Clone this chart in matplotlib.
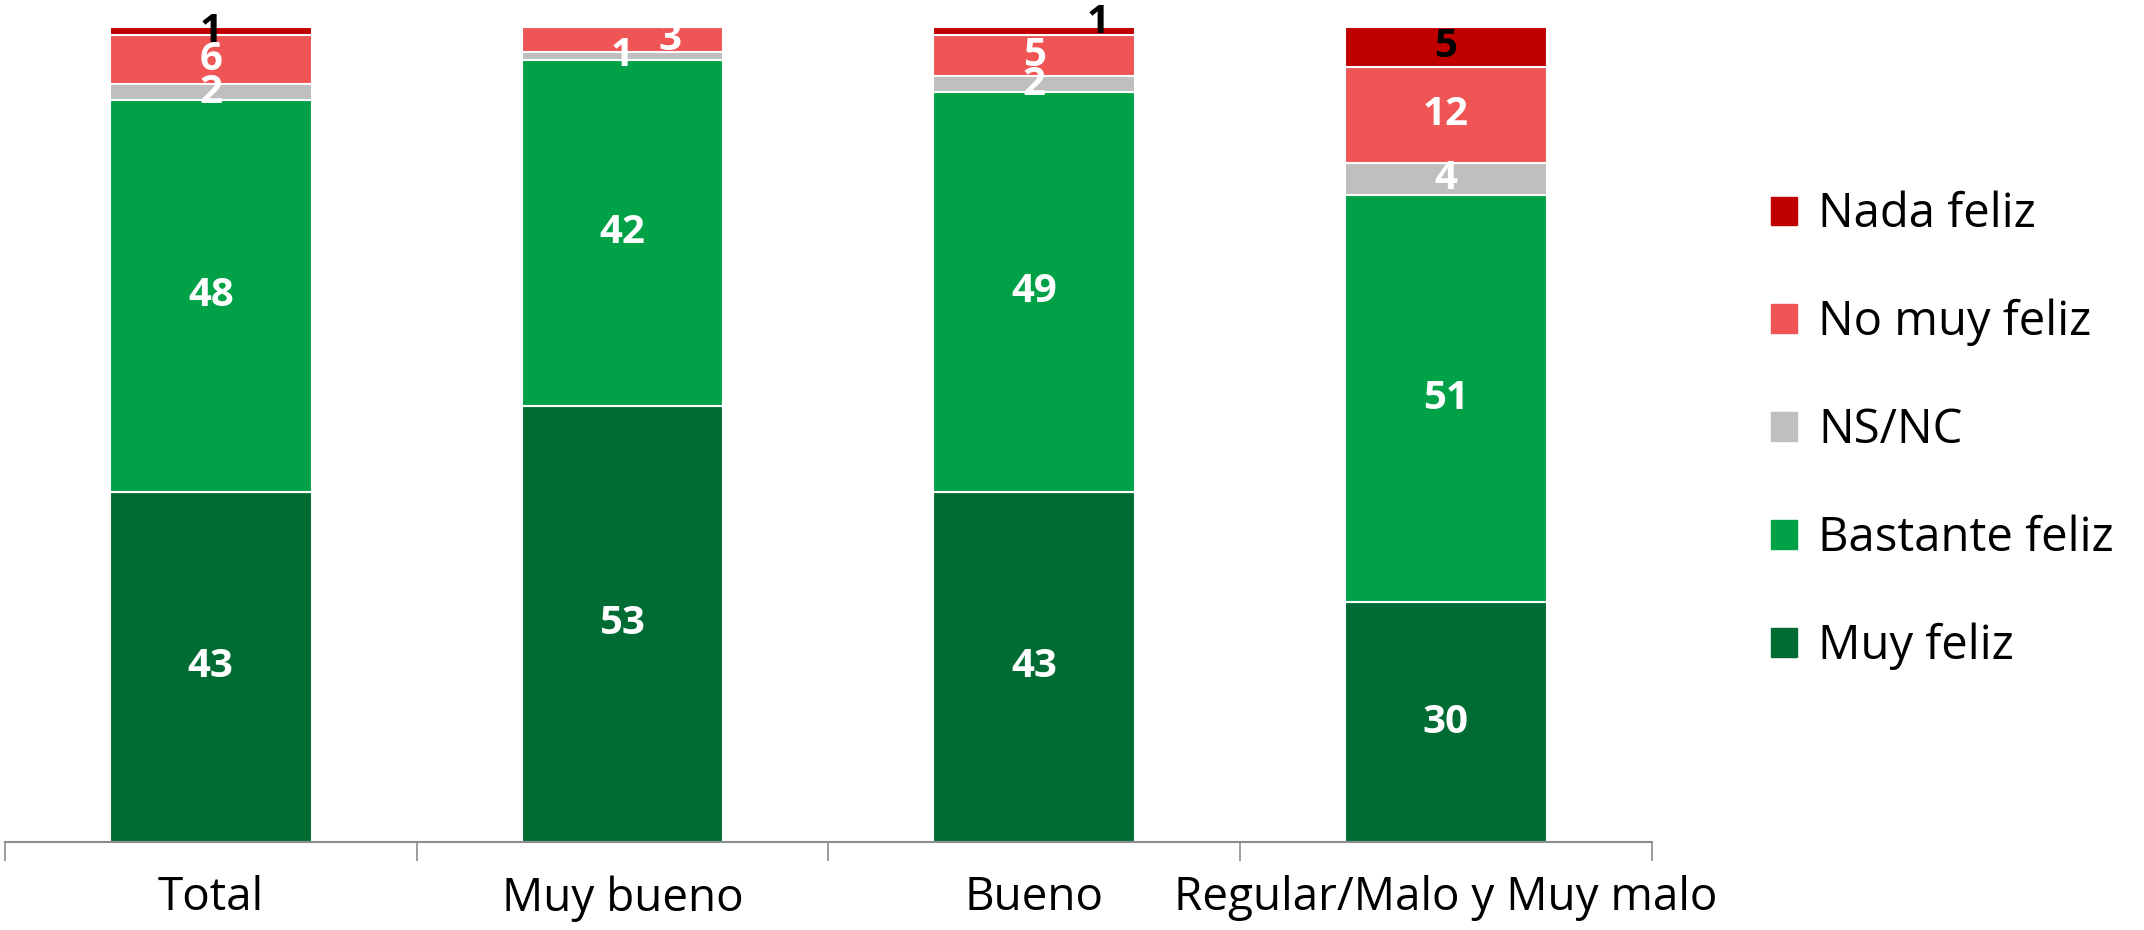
import numpy as np
import matplotlib.pyplot as plt
from matplotlib import patches as mpatches

plt.rcParams['font.family'] = ['Open Sans', 'DejaVu Sans']

categories = ["Total", "Muy bueno", "Bueno", "Regular/Malo y Muy malo"]
series = ["Muy feliz", "Bastante feliz", "NS/NC", "No muy feliz", "Nada feliz"]
muy_feliz = [43, 53, 43, 30]
bastante_feliz = [48, 42, 49, 51]
ns_nc = [2, 1, 2, 4]
no_muy_feliz = [6, 3, 5, 12]
nada_feliz = [1, 0, 1, 5]

colors = {"Muy feliz": "#006B33",
          "Bastante feliz": "#00A147",
          "NS/NC": "#BFBFBF",
          "No muy feliz": "#EF5555",
          "Nada feliz": "#C00000"}
label_colors = {"Muy feliz": "white", "Bastante feliz": "white", "NS/NC": "white",
                "No muy feliz": "white", "Nada feliz": "black"}

# manual nudges for the crowded labels (x in category units, y in percent)
nudges = {(1, "No muy feliz"): (0.116, 0.0),
          (2, "Nada feliz"): (0.156, 1.0)}

values = np.array([muy_feliz, bastante_feliz, ns_nc, no_muy_feliz, nada_feliz], dtype=float)
totals = values.sum(axis=0)
shares = values / totals * 100

fig = plt.figure(figsize=(21.44, 9.3), dpi=100)
ax = fig.add_axes([0.0023, 0.0946, 0.7680, 0.8764])

x = np.arange(len(categories))
bottom = np.zeros(len(categories))
for i, name in enumerate(series):
    ax.bar(x, shares[i], 0.49, bottom=bottom, color=colors[name],
           edgecolor="white", linewidth=1.5)
    for j in range(len(categories)):
        if values[i, j] == 0:
            continue
        dx, dy = nudges.get((j, name), (0.0, 0.0))
        ax.text(x[j] + dx, bottom[j] + shares[i, j] / 2 + dy, "%d" % values[i, j],
                ha="center", va="center", fontsize=29, fontweight="bold",
                color=label_colors[name])
    bottom += shares[i]

ax.set_xlim(-0.5, len(categories) - 0.5)
ax.set_ylim(0, 100)
for s in ["top", "right", "left"]:
    ax.spines[s].set_visible(False)
ax.spines["bottom"].set_color("#8C8C8C")
ax.spines["bottom"].set_linewidth(1.5)
ax.set_yticks([])
ax.set_xticks(x)
ax.set_xticklabels(categories, fontsize=33)
ax.tick_params(axis="x", which="major", length=0, pad=24)
ax.set_xticks(np.arange(-0.5, len(categories)), minor=True)
ax.tick_params(axis="x", which="minor", length=14, width=1.2, color="#8C8C8C")

handles = [mpatches.Patch(color=colors[n], label=n) for n in series[::-1]]
fig.legend(handles=handles, loc="center left", bbox_to_anchor=(0.826, 0.537),
           frameon=False, fontsize=34, handlelength=0.55, handleheight=0.55,
           handletextpad=0.45, labelspacing=1.28, borderpad=0, borderaxespad=0)

fig.savefig("out.png", dpi=100)
